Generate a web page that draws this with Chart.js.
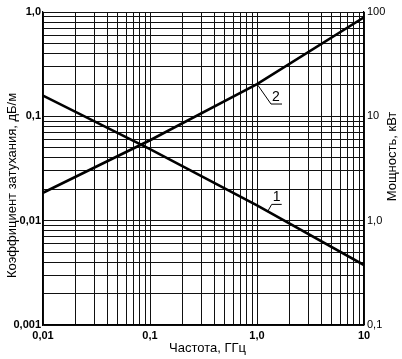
<!DOCTYPE html>
<html>
<head>
<meta charset="utf-8">
<script src="https://cdn.jsdelivr.net/npm/chart.js@4/dist/chart.umd.min.js"></script>
<style>
html,body{margin:0;padding:0;background:#fff;}
#wrap{width:402px;height:359px;position:relative;}
</style>
</head>
<body>
<div id="wrap"><canvas id="c" width="402" height="359"></canvas></div>
<script>
// Frequency, GHz
const freq = [0.01, 0.1, 1, 10];
// Curve 1: attenuation coefficient, dB/m (left axis)
const attenuation = [0.158, 0.0485, 0.014, 0.00375];
// Curve 2: power, kW (right axis)
const power = [1.85, 5.9, 20.4, 89];

const xTickValues = [0.01, 0.1, 1, 10];
const xTickLabels = ['0,01', '0,1', '1,0', '10'];
const yTickValues = [0.001, 0.01, 0.1, 1];
const yTickLabels = ['0,001', '0,01', '0,1', '1,0'];
const y2TickValues = [0.1, 1, 10, 100];
const y2TickLabels = ['0,1', '1,0', '10', '100'];

const xTitle = 'Частота, ГГц';
const yTitle = 'Коэффициент затухания, дБ/м';
const y2Title = 'Мощность, кВт';
const curveNames = ['1', '2'];

function fullDecades(min, max) {
  const out = [];
  for (let e = Math.round(Math.log10(min)); e < Math.round(Math.log10(max)); e++) {
    for (let m = 1; m <= 9; m++) out.push(+(m * Math.pow(10, e)).toPrecision(6));
  }
  out.push(max);
  return out;
}
function labelFor(values, labels) {
  return function (v) {
    for (let i = 0; i < values.length; i++) {
      if (Math.abs(v - values[i]) / values[i] < 1e-6) return labels[i];
    }
    return '';
  };
}

const FONT = '"Liberation Sans", Arial, sans-serif';

const annot = {
  id: 'annot',
  afterDraw(chart) {
    const ctx = chart.ctx;
    const ca = chart.chartArea;
    ctx.save();
    ctx.fillStyle = '#000';
    ctx.strokeStyle = '#000';
    // axis titles
    ctx.font = '13px ' + FONT;
    ctx.textAlign = 'center';
    ctx.textBaseline = 'middle';
    ctx.fillText(xTitle, (ca.left + ca.right) / 2 + 4, 348);
    ctx.save();
    ctx.translate(12, (ca.top + ca.bottom) / 2 + 17);
    ctx.rotate(-Math.PI / 2);
    ctx.fillText(yTitle, 0, 0);
    ctx.restore();
    ctx.save();
    ctx.translate(392, (ca.top + ca.bottom) / 2 - 12);
    ctx.rotate(-Math.PI / 2);
    ctx.fillText(y2Title, 0, 0);
    ctx.restore();

    // curve labels with leaders
    ctx.lineWidth = 1;
    ctx.font = '14px ' + FONT;
    ctx.textBaseline = 'alphabetic';
    // curve 2 anchor: its point at 1 GHz
    const m2 = chart.getDatasetMeta(1).data;
    const a2 = m2[2];
    ctx.beginPath();
    ctx.moveTo(a2.x, a2.y);
    ctx.lineTo(a2.x + 14, a2.y + 20);
    ctx.lineTo(a2.x + 25, a2.y + 20);
    ctx.stroke();
    ctx.fillText(curveNames[1], a2.x + 19, a2.y + 17);
    // curve 1 anchor: a little past 1 GHz on the curve
    const m1 = chart.getDatasetMeta(0).data;
    const p = m1[2], q = m1[3], f = 0.1;
    const ax = p.x + (q.x - p.x) * f, ay = p.y + (q.y - p.y) * f;
    ctx.beginPath();
    ctx.moveTo(ax, ay);
    ctx.lineTo(ax + 4, ay - 7);
    ctx.lineTo(ax + 14, ay - 7);
    ctx.stroke();
    ctx.fillText(curveNames[0], ax + 9, ay - 10);
    ctx.restore();
  }
};

new Chart(document.getElementById('c'), {
  type: 'line',
  data: {
    datasets: [
      {
        label: curveNames[0],
        data: freq.map((x, i) => ({ x: x, y: attenuation[i] })),
        yAxisID: 'y',
        borderColor: '#000',
        borderWidth: 2.6,
        pointRadius: 0,
        tension: 0,
        fill: false
      },
      {
        label: curveNames[1],
        data: freq.map((x, i) => ({ x: x, y: power[i] })),
        yAxisID: 'y2',
        borderColor: '#000',
        borderWidth: 2.6,
        pointRadius: 0,
        tension: 0,
        fill: false
      }
    ]
  },
  options: {
    responsive: false,
    animation: false,
    devicePixelRatio: 1,
    layout: { padding: { top: 12, left: 0, right: 0, bottom: 0 } },
    plugins: { legend: { display: false }, tooltip: { enabled: false } },
    scales: {
      x: {
        type: 'logarithmic',
        position: 'bottom',
        min: 0.01, max: 10,
        afterBuildTicks: s => { s.ticks = fullDecades(0.01, 10).map(v => ({ value: v })); },
        afterFit: s => { s.height = 34; },
        grid: { color: '#111', lineWidth: 1, drawTicks: false },
        border: { color: '#000', width: 1.2 },
        ticks: {
          autoSkip: false, maxRotation: 0, padding: 4,
          color: '#000',
          font: { family: FONT, size: 11, weight: 'bold' },
          callback: labelFor(xTickValues, xTickLabels)
        }
      },
      y: {
        type: 'logarithmic',
        position: 'left',
        min: 0.001, max: 1,
        afterBuildTicks: s => { s.ticks = fullDecades(0.001, 1).map(v => ({ value: v })); },
        afterFit: s => { s.width = 43; },
        grid: { color: '#111', lineWidth: 1, drawTicks: false },
        border: { color: '#000', width: 1.2 },
        ticks: {
          autoSkip: false, padding: 2,
          color: '#000',
          font: { family: FONT, size: 11, weight: 'bold' },
          callback: labelFor(yTickValues, yTickLabels)
        }
      },
      y2: {
        type: 'logarithmic',
        position: 'right',
        min: 0.1, max: 100,
        afterBuildTicks: s => { s.ticks = fullDecades(0.1, 100).map(v => ({ value: v })); },
        afterFit: s => { s.width = 38; },
        grid: { drawOnChartArea: false, drawTicks: false },
        border: { color: '#000', width: 1.2 },
        ticks: {
          autoSkip: false, padding: 3,
          color: '#000',
          font: { family: FONT, size: 11 },
          callback: labelFor(y2TickValues, y2TickLabels)
        }
      }
    }
  },
  plugins: [annot]
});
</script>
</body>
</html>
